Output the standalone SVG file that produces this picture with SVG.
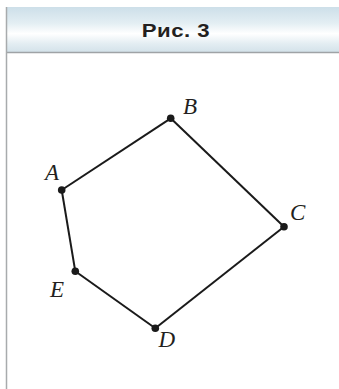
<svg xmlns="http://www.w3.org/2000/svg" width="339" height="389" viewBox="0 0 339 389">
  <defs>
    <linearGradient id="hdr" x1="0" y1="0" x2="0" y2="1">
      <stop offset="0" stop-color="#cddfe9"/>
      <stop offset="0.35" stop-color="#e3eef3"/>
      <stop offset="0.58" stop-color="#ffffff"/>
      <stop offset="0.8" stop-color="#e3edf2"/>
      <stop offset="1" stop-color="#d2e1e9"/>
    </linearGradient>
  </defs>
  <style>
    .edge { stroke: #1a1a1a; stroke-width: 2; fill: none; stroke-linejoin: round; }
    .dot { fill: #1a1a1a; }
    .lbl { font-family: "Liberation Serif", "Times New Roman", serif; font-style: italic; font-size: 23px; fill: #231f20; }
    .title { font-family: "Liberation Sans", Arial, sans-serif; font-weight: bold; font-size: 18.5px; fill: #231f20; }
  </style>
  <rect x="0" y="0" width="339" height="389" fill="#ffffff"/>
  <g id="header">
    <rect x="7" y="7" width="332" height="46" fill="url(#hdr)"/>
    <line x1="7" y1="52.5" x2="339" y2="52.5" stroke="#9fa3a6" stroke-width="1.5"/>
    <line x1="6.5" y1="7" x2="6.5" y2="389" stroke="#a8abad" stroke-width="1.5"/>
    <text class="title" transform="translate(176,36.7) scale(1.2,1)" x="0" y="0" text-anchor="middle" letter-spacing="0.4">Рис. 3</text>
  </g>
  <g id="connectors">
    <line class="edge" x1="61.7" y1="190" x2="170.7" y2="118.3"/>
    <line class="edge" x1="170.7" y1="118.3" x2="284" y2="226.7"/>
    <line class="edge" x1="284" y1="226.7" x2="155.3" y2="328.3"/>
    <line class="edge" x1="155.3" y1="328.3" x2="75.3" y2="271.3"/>
    <line class="edge" x1="75.3" y1="271.3" x2="61.7" y2="190"/>
  </g>
  <g id="A">
    <circle class="dot" cx="61.7" cy="190" r="3.8"/>
    <text class="lbl" x="45" y="180">A</text>
  </g>
  <g id="B">
    <circle class="dot" cx="170.7" cy="118.3" r="3.8"/>
    <text class="lbl" x="183" y="114">B</text>
  </g>
  <g id="C">
    <circle class="dot" cx="284" cy="226.7" r="3.8"/>
    <text class="lbl" x="290" y="220">C</text>
  </g>
  <g id="D">
    <circle class="dot" cx="155.3" cy="328.3" r="3.8"/>
    <text class="lbl" x="158.5" y="346.7">D</text>
  </g>
  <g id="E">
    <circle class="dot" cx="75.3" cy="271.3" r="3.8"/>
    <text class="lbl" x="50" y="297.3">E</text>
  </g>
</svg>
